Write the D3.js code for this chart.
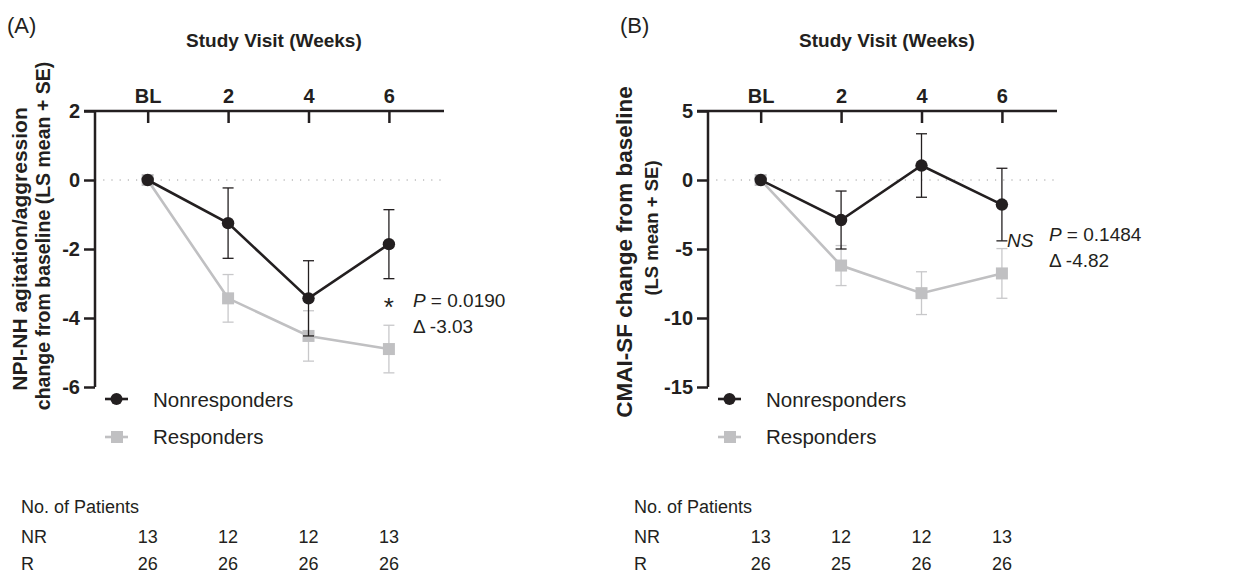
<!DOCTYPE html>
<html>
<head>
<meta charset="utf-8">
<style>
  html, body { margin: 0; padding: 0; background: #fff; }
  svg text { font-family: "Liberation Sans", Arial, Helvetica, sans-serif; fill: #231f20; }
</style>
</head>
<body>
<svg id="svg" width="1242" height="574"></svg>
<script src="https://cdn.jsdelivr.net/npm/d3@7"></script>
<script>
const visits = ["BL", "2", "4", "6"]

// (A) NPI-NH agitation/aggression
const npiNonMean = [0, -1.25, -3.43, -1.86]
const npiNonSE = [0, 1.02, 1.09, 1.0]
const npiRespMean = [0, -3.43, -4.52, -4.9]
const npiRespSE = [0, 0.69, 0.73, 0.69]
const npiTicks = [2, 0, -2, -4, -6]
const npiNR = [13, 12, 12, 13]
const npiR = [26, 26, 26, 26]

// (B) CMAI-SF
const cmaiNonMean = [0, -2.9, 1.05, -1.78]
const cmaiNonSE = [0, 2.1, 2.3, 2.63]
const cmaiRespMean = [0, -6.2, -8.2, -6.77]
const cmaiRespSE = [0, 1.45, 1.55, 1.8]
const cmaiTicks = [5, 0, -5, -10, -15]
const cmaiNR = [13, 12, 12, 13]
const cmaiR = [26, 25, 26, 26]

const dark = "#231f20"
const grey = "#c0c0c2"

const svg = d3.select("#svg")

function drawPanel(opt) {
  const left = opt.left, top = 111, w = 349, h = 276
  const g = svg.append("g").attr("transform", `translate(${left},${top})`)

  const x = d3.scaleLinear().domain([-0.655, 3.685]).range([0, w])
  const y = d3.scaleLinear().domain([opt.ticks[opt.ticks.length - 1], opt.ticks[0]]).range([h, 0])

  // dotted zero line
  g.append("line")
    .attr("x1", 0).attr("x2", w)
    .attr("y1", y(0)).attr("y2", y(0))
    .attr("stroke", "#9a9a9a").attr("stroke-width", 1)
    .attr("stroke-dasharray", "1.2,7")

  // axes
  const xAxis = g.append("g")
    .call(d3.axisTop(x).tickValues([0, 1, 2, 3]).tickFormat(i => visits[i])
      .tickSizeInner(-12).tickSizeOuter(0).tickPadding(8))
  const yAxis = g.append("g")
    .call(d3.axisLeft(y).tickValues(opt.ticks).tickFormat(d => String(d))
      .tickSizeInner(11).tickSizeOuter(0).tickPadding(4))
  ;[xAxis, yAxis].forEach(a => {
    a.selectAll("path, line").attr("stroke", dark).attr("stroke-width", 2.5)
    a.selectAll("text").attr("font-size", 20).attr("font-weight", "bold")
      .attr("fill", dark).style("font-family", '"Liberation Sans", Arial, sans-serif')
  })
  xAxis.select(".domain").attr("d", `M-11,0H${w}`)
  yAxis.select(".domain").attr("d", `M0,0V${h}`)

  const series = [
    { mean: opt.respMean, se: opt.respSE, color: grey, bar: "#c8c8ca", shape: "square" },
    { mean: opt.nonMean, se: opt.nonSE, color: dark, bar: dark, shape: "circle" }
  ]
  const line = d3.line().x((d, i) => x(i)).y(d => y(d))

  series.forEach(s => {
    const idx = d3.range(1, s.mean.length)
    // error bars
    g.selectAll(null).data(idx).enter().append("line")
      .attr("x1", i => x(i)).attr("x2", i => x(i))
      .attr("y1", i => y(s.mean[i] + s.se[i])).attr("y2", i => y(s.mean[i] - s.se[i]))
      .attr("stroke", s.bar).attr("stroke-width", 1.3)
    ;[1, -1].forEach(sign => {
      g.selectAll(null).data(idx).enter().append("line")
        .attr("x1", i => x(i) - 5.5).attr("x2", i => x(i) + 5.5)
        .attr("y1", i => y(s.mean[i] + sign * s.se[i])).attr("y2", i => y(s.mean[i] + sign * s.se[i]))
        .attr("stroke", s.bar).attr("stroke-width", 1.3)
    })
    g.append("path").datum(s.mean).attr("d", line)
      .attr("fill", "none").attr("stroke", s.color).attr("stroke-width", 2.6)
    if (s.shape === "circle") {
      g.selectAll(null).data(s.mean).enter().append("circle")
        .attr("cx", (d, i) => x(i)).attr("cy", d => y(d)).attr("r", 6.2).attr("fill", dark)
    } else {
      g.selectAll(null).data(s.mean).enter().append("rect")
        .attr("x", (d, i) => x(i) - 6).attr("y", d => y(d) - 6)
        .attr("width", 12).attr("height", 12).attr("fill", grey)
    }
  })

  // x title
  g.append("text").attr("x", x(1.57)).attr("y", -64)
    .attr("text-anchor", "middle").attr("font-size", 19).attr("font-weight", "bold")
    .text("Study Visit (Weeks)")

  // panel letter
  svg.append("text").attr("x", left - 88).attr("y", 33).attr("font-size", 22).text(opt.letter)

  // y title
  opt.yLabel.forEach(l => {
    svg.append("text")
      .attr("transform", `translate(${l.x},${l.y}) rotate(-90)`)
      .attr("text-anchor", "middle").attr("font-size", l.size).attr("font-weight", "bold")
      .text(l.text)
  })

  // significance annotation
  const a = opt.annot
  g.append("text").attr("x", x(3) + a.markDx).attr("y", y(a.markY))
    .attr("font-size", a.markSize).attr("text-anchor", a.markAnchor)
    .attr("font-style", a.markItalic ? "italic" : "normal").text(a.mark)
  const pt = g.append("text").attr("x", x(3) + a.dx).attr("y", y(a.pY)).attr("font-size", 19)
  pt.append("tspan").attr("font-style", "italic").text("P")
  pt.append("tspan").text(" = " + a.p)
  g.append("text").attr("x", x(3) + a.dx).attr("y", y(a.pY) + 26).attr("font-size", 19)
    .text("\u0394 " + a.delta)

  // legend
  const leg = g.append("g").attr("transform", `translate(10,${h + 12})`)
  leg.append("line").attr("x1", 0).attr("x2", 23).attr("y1", 0).attr("y2", 0)
    .attr("stroke", dark).attr("stroke-width", 2.6)
  leg.append("circle").attr("cx", 11.5).attr("cy", 0).attr("r", 6).attr("fill", dark)
  leg.append("text").attr("x", 48).attr("y", 8).attr("font-size", 20.5).text("Nonresponders")
  leg.append("line").attr("x1", 0).attr("x2", 23).attr("y1", 38).attr("y2", 38)
    .attr("stroke", grey).attr("stroke-width", 2.6)
  leg.append("rect").attr("x", 6).attr("y", 32).attr("width", 12).attr("height", 12).attr("fill", grey)
  leg.append("text").attr("x", 48).attr("y", 45).attr("font-size", 20.5).text("Responders")

  // patient table
  const t = svg.append("g").attr("font-size", 18)
  t.append("text").attr("x", left - 74).attr("y", 513).text("No. of Patients")
  t.append("text").attr("x", left - 74).attr("y", 543).text("NR")
  t.append("text").attr("x", left - 74).attr("y", 570).text("R")
  t.selectAll(null).data(opt.nr).enter().append("text")
    .attr("x", (d, i) => left + x(i)).attr("y", 543).attr("text-anchor", "middle").text(d => d)
  t.selectAll(null).data(opt.r).enter().append("text")
    .attr("x", (d, i) => left + x(i)).attr("y", 570).attr("text-anchor", "middle").text(d => d)
}

drawPanel({
  left: 95, letter: "(A)", ticks: npiTicks,
  nonMean: npiNonMean, nonSE: npiNonSE, respMean: npiRespMean, respSE: npiRespSE,
  nr: npiNR, r: npiR,
  yLabel: [
    { text: "NPI-NH agitation/aggression", x: 27, y: 249, size: 21 },
    { text: "change from baseline (LS mean + SE)", x: 50, y: 236, size: 19.5 }
  ],
  annot: { mark: "*", markDx: 0, markY: -3.93, markAnchor: "middle", markItalic: false, markSize: 26,
           dx: 24, pY: -3.67, p: "0.0190", delta: "-3.03" }
})

drawPanel({
  left: 708, letter: "(B)", ticks: cmaiTicks,
  nonMean: cmaiNonMean, nonSE: cmaiNonSE, respMean: cmaiRespMean, respSE: cmaiRespSE,
  nr: cmaiNR, r: cmaiR,
  yLabel: [
    { text: "CMAI-SF change from baseline", x: 632, y: 252, size: 22.5 },
    { text: "(LS mean + SE)", x: 658, y: 228, size: 18.5 }
  ],
  annot: { mark: "NS", markDx: 5, markY: -4.85, markAnchor: "start", markItalic: true, markSize: 19,
           dx: 47, pY: -4.45, p: "0.1484", delta: "-4.82" }
})
</script>
</body>
</html>
